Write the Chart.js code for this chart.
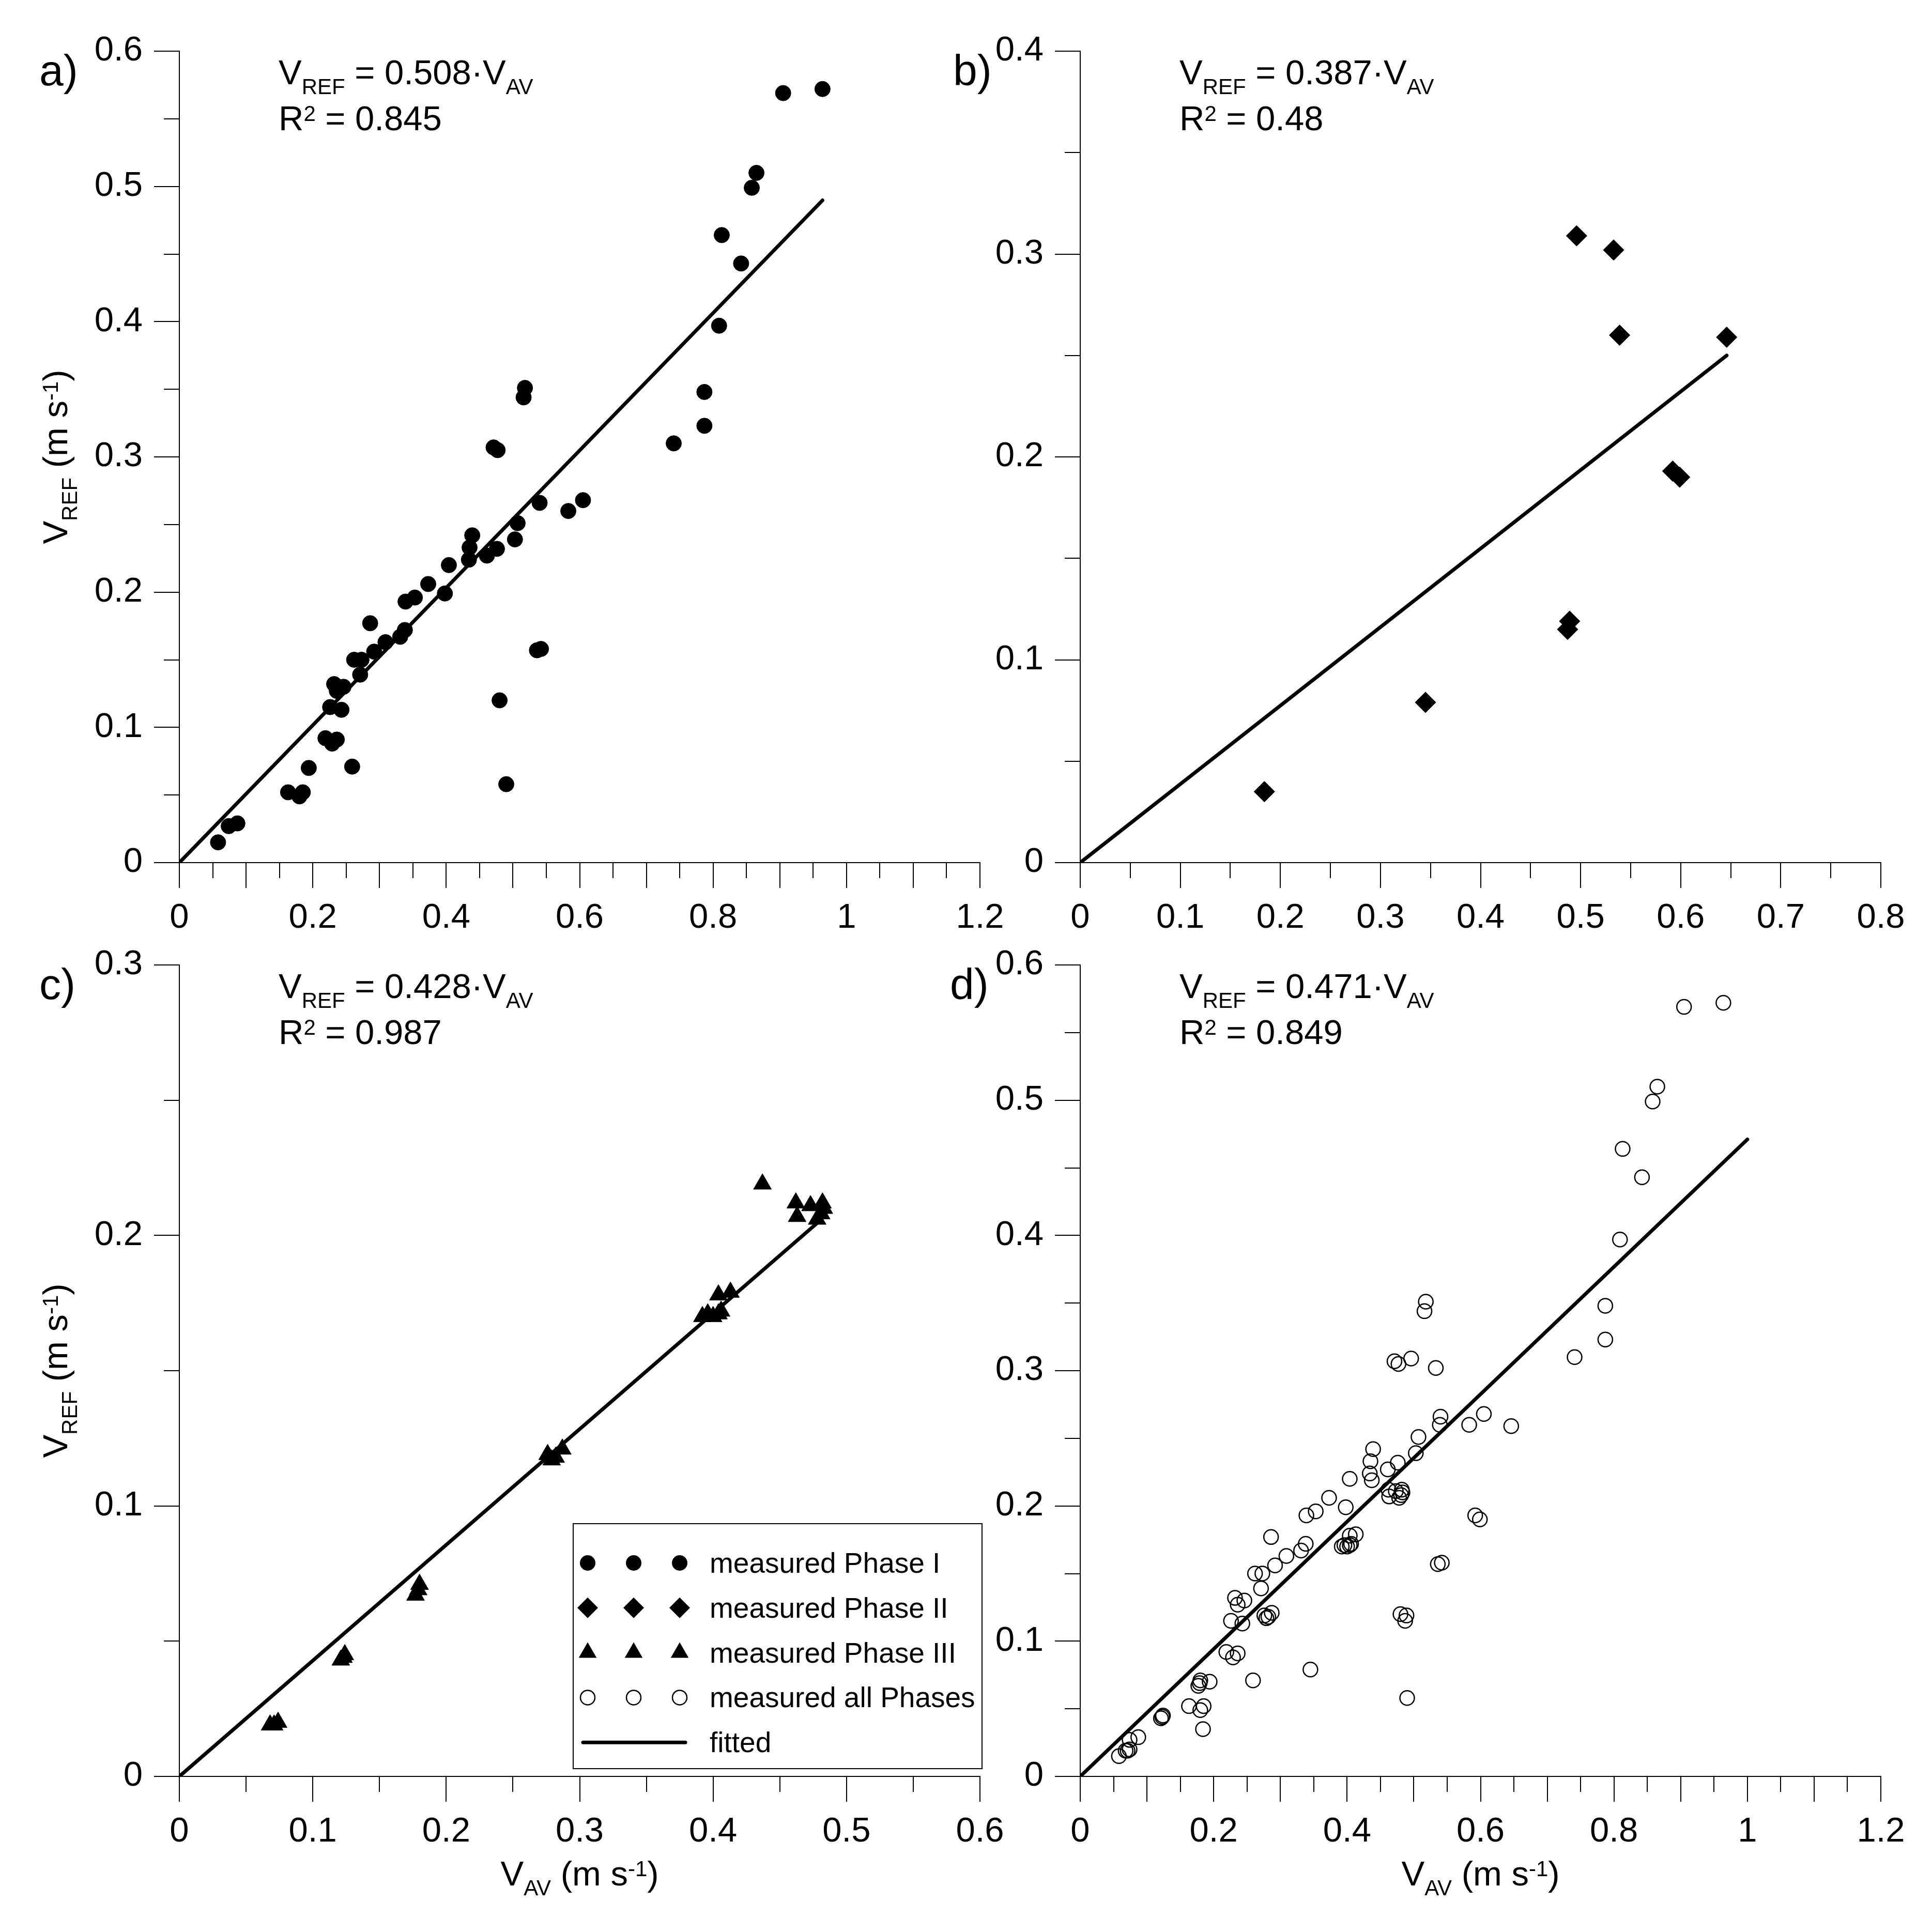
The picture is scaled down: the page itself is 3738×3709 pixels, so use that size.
<!DOCTYPE html>
<html>
<head>
<meta charset="utf-8">
<title>VREF vs VAV</title>
<script src="https://cdn.jsdelivr.net/npm/chart.js@4.4.1/dist/chart.umd.min.js"></script>
<style>
  html, body { margin: 0; padding: 0; background: #fff; }
  #wrap { position: relative; width: 3738px; height: 3709px; background: #fff; overflow: hidden; }
  #wrap canvas { position: absolute; }
</style>
</head>
<body>
<div id="wrap">
  <canvas id="chartA"></canvas>
  <canvas id="chartB"></canvas>
  <canvas id="chartC"></canvas>
  <canvas id="chartD"></canvas>
</div>
<script>
"use strict";

var FONT = '"Liberation Sans", Arial, Helvetica, sans-serif';

// measured points, [V_AV, V_REF] in m/s
var phase1 = [
  [0.058, 0.015], [0.074, 0.027], [0.087, 0.029], [0.163, 0.052], [0.180, 0.049],
  [0.185, 0.052], [0.194, 0.070], [0.259, 0.071], [0.219, 0.092], [0.229, 0.088],
  [0.236, 0.091], [0.226, 0.115], [0.243, 0.113], [0.232, 0.132], [0.236, 0.127],
  [0.246, 0.130], [0.271, 0.139], [0.262, 0.150], [0.273, 0.150], [0.286, 0.177],
  [0.292, 0.156], [0.309, 0.163], [0.331, 0.167], [0.338, 0.172], [0.339, 0.193],
  [0.353, 0.196], [0.373, 0.206], [0.398, 0.199], [0.404, 0.220], [0.434, 0.224],
  [0.435, 0.233], [0.439, 0.242], [0.461, 0.227], [0.476, 0.232], [0.471, 0.307],
  [0.477, 0.305], [0.480, 0.120], [0.490, 0.058], [0.503, 0.239], [0.507, 0.251],
  [0.516, 0.344], [0.518, 0.351], [0.536, 0.157], [0.542, 0.158], [0.540, 0.266],
  [0.583, 0.260], [0.605, 0.268], [0.741, 0.310], [0.787, 0.323], [0.787, 0.348],
  [0.809, 0.397], [0.813, 0.464], [0.842, 0.443], [0.858, 0.499], [0.865, 0.510],
  [0.905, 0.569], [0.964, 0.572]
];

var phase2 = [
  [0.184, 0.035], [0.345, 0.079], [0.487, 0.115], [0.489, 0.119], [0.496, 0.309],
  [0.533, 0.302], [0.539, 0.260], [0.592, 0.193], [0.599, 0.190], [0.646, 0.259]
];

var phase3 = [
  [0.068, 0.019], [0.071, 0.019], [0.074, 0.020],
  [0.121, 0.043], [0.123, 0.044], [0.124, 0.045],
  [0.177, 0.067], [0.179, 0.069], [0.180, 0.071],
  [0.276, 0.119], [0.279, 0.117], [0.282, 0.118], [0.287, 0.121],
  [0.392, 0.170], [0.396, 0.171], [0.400, 0.170], [0.404, 0.171], [0.406, 0.172],
  [0.404, 0.178], [0.413, 0.179],
  [0.437, 0.219],
  [0.462, 0.212], [0.463, 0.207], [0.473, 0.211], [0.478, 0.206], [0.481, 0.208],
  [0.483, 0.210], [0.482, 0.212]
];

var panelNames = ["a)", "b)", "c)", "d)"];
var fitSlope = [0.508, 0.387, 0.428, 0.471];
var fitEnd = [0.964, 0.646, 0.478, 1.0];
var rSquared = ["0.845", "0.48", "0.987", "0.849"];
var xMax = [1.2, 0.8, 0.6, 1.2];
var yMax = [0.6, 0.4, 0.3, 0.6];
var xLabelStep = [0.2, 0.1, 0.1, 0.2];
var legendLabels = ["measured Phase I", "measured Phase II", "measured Phase III", "measured all Phases", "fitted"];

// page layout (pixels)
var canvasRects = [
  { x: 0, y: 0, w: 1980, h: 1820 },
  { x: 1760, y: 0, w: 1978, h: 1820 },
  { x: 0, y: 1780, w: 1980, h: 1929 },
  { x: 1760, y: 1780, w: 1978, h: 1929 }
];
var plotBoxes = [
  { left: 347, right: 1896, top: 99, bottom: 1669 },
  { left: 2090, right: 3639, top: 99, bottom: 1669 },
  { left: 347, right: 1896, top: 1867, bottom: 3437 },
  { left: 2090, right: 3639, top: 1867, bottom: 3437 }
];
var letterDx = [-271, -246, -271, -252];
var Y_AXIS_W = 250, X_AXIS_H = 140;

function toXY(arr) {
  return arr.map(function (p) { return { x: p[0], y: p[1] }; });
}

// text with sub/superscripts: parts = [[text, 0 normal | 1 sub | 2 sup], ...]
function drawRich(ctx, x, y, parts, size, align) {
  var small = Math.round(size * 0.63);
  var total = 0, i;
  for (i = 0; i < parts.length; i++) {
    ctx.font = (parts[i][1] ? small : size) + "px " + FONT;
    total += ctx.measureText(parts[i][0]).width;
  }
  var cx = align === "center" ? x - total / 2 : x;
  ctx.textAlign = "left";
  ctx.textBaseline = "alphabetic";
  for (i = 0; i < parts.length; i++) {
    var kind = parts[i][1];
    ctx.font = (kind ? small : size) + "px " + FONT;
    var dy = kind === 1 ? size * 0.28 : (kind === 2 ? -size * 0.27 : 0);
    ctx.fillText(parts[i][0], cx, y + dy);
    cx += ctx.measureText(parts[i][0]).width;
  }
}

function drawShape(ctx, shape, x, y) {
  ctx.beginPath();
  if (shape === "circle") {
    ctx.arc(x, y, 15, 0, Math.PI * 2);
    ctx.fill();
  } else if (shape === "diamond") {
    ctx.moveTo(x, y - 20); ctx.lineTo(x + 20, y); ctx.lineTo(x, y + 20); ctx.lineTo(x - 20, y);
    ctx.closePath();
    ctx.fill();
  } else if (shape === "triangle") {
    ctx.moveTo(x, y - 20); ctx.lineTo(x + 17.3, y + 10); ctx.lineTo(x - 17.3, y + 10);
    ctx.closePath();
    ctx.fill();
  } else if (shape === "open") {
    ctx.lineWidth = 2.5;
    ctx.arc(x, y, 14, 0, Math.PI * 2);
    ctx.stroke();
  }
}

function decoPlugin(i) {
  return {
    id: "deco" + i,
    afterDraw: function (chart) {
      var ctx = chart.ctx;
      var xs = chart.scales.x, ys = chart.scales.y, area = chart.chartArea;
      var v, p;
      ctx.save();
      ctx.fillStyle = "#000";
      ctx.strokeStyle = "#000";

      // minor ticks
      ctx.lineWidth = 2;
      ctx.beginPath();
      for (v = 0.05; v < xMax[i]; v += 0.1) {
        p = Math.round(xs.getPixelForValue(v));
        ctx.moveTo(p, area.bottom);
        ctx.lineTo(p, area.bottom + 30);
      }
      for (v = 0.05; v < yMax[i]; v += 0.1) {
        p = Math.round(ys.getPixelForValue(v));
        ctx.moveTo(area.left, p);
        ctx.lineTo(area.left - 30, p);
      }
      ctx.stroke();

      // panel letter
      ctx.font = "84px " + FONT;
      ctx.textAlign = "left";
      ctx.textBaseline = "alphabetic";
      ctx.fillText(panelNames[i], area.left + letterDx[i], area.top + 66);

      // regression text
      drawRich(ctx, area.left + 192, area.top + 64,
        [["V", 0], ["REF", 1], [" = " + fitSlope[i].toFixed(3) + "\u00B7V", 0], ["AV", 1]], 67, "left");
      drawRich(ctx, area.left + 192, area.top + 153,
        [["R", 0], ["2", 2], [" = " + rSquared[i], 0]], 67, "left");

      // axis titles
      if (i === 0 || i === 2) {
        ctx.save();
        ctx.translate(area.left - 217, (area.top + area.bottom) / 2);
        ctx.rotate(-Math.PI / 2);
        drawRich(ctx, 0, 0, [["V", 0], ["REF", 1], [" (m s", 0], ["-1", 2], [")", 0]], 67, "center");
        ctx.restore();
      }
      if (i === 2 || i === 3) {
        drawRich(ctx, (area.left + area.right) / 2, area.bottom + 211,
          [["V", 0], ["AV", 1], [" (m s", 0], ["-1", 2], [")", 0]], 67, "center");
      }

      // legend (panel c)
      if (i === 2) {
        var bx = area.left + 762, by = area.top + 1081;
        var bw = area.right + 4 - bx, bh = 474;
        ctx.lineWidth = 2;
        ctx.strokeRect(bx, by, bw, bh);
        var shapes = ["circle", "diamond", "triangle", "open"];
        var cols = [790, 879, 968];
        for (var r = 0; r < legendLabels.length; r++) {
          var ry = area.top + 1157 + r * 86.8;
          if (r < 4) {
            for (var c = 0; c < cols.length; c++) {
              drawShape(ctx, shapes[r], area.left + cols[c], ry);
            }
          } else {
            ctx.lineWidth = 7;
            ctx.lineCap = "round";
            ctx.beginPath();
            ctx.moveTo(area.left + 781, ry);
            ctx.lineTo(area.left + 979, ry);
            ctx.stroke();
          }
          ctx.font = "55px " + FONT;
          ctx.textAlign = "left";
          ctx.textBaseline = "alphabetic";
          ctx.fillText(legendLabels[r], area.left + 1026, ry + 19);
        }
      }
      ctx.restore();
    }
  };
}

function makePanel(i, canvasId, points, style) {
  var rect = canvasRects[i], box = plotBoxes[i];
  var canvas = document.getElementById(canvasId);
  canvas.width = rect.w;
  canvas.height = rect.h;
  canvas.style.left = rect.x + "px";
  canvas.style.top = rect.y + "px";
  canvas.style.width = rect.w + "px";
  canvas.style.height = rect.h + "px";

  var pad = {
    left: box.left - rect.x - Y_AXIS_W,
    right: rect.x + rect.w - box.right,
    top: box.top - rect.y,
    bottom: rect.y + rect.h - box.bottom - X_AXIS_H
  };

  var axisCommon = {
    type: "linear",
    min: 0,
    grid: { drawOnChartArea: false, drawTicks: true, tickLength: 49, lineWidth: 2, tickWidth: 2, tickColor: "#000", color: "#000" },
    border: { display: true, color: "#000", width: 2 }
  };

  return new Chart(canvas.getContext("2d"), {
    type: "scatter",
    data: {
      datasets: [
        {
          data: toXY(points),
          pointStyle: style.shape,
          pointRadius: style.radius,
          backgroundColor: style.fill,
          borderColor: "#000",
          borderWidth: style.border
        },
        {
          data: [{ x: 0, y: 0 }, { x: fitEnd[i], y: fitSlope[i] * fitEnd[i] }],
          showLine: true,
          borderColor: "#000",
          borderWidth: 7,
          borderCapStyle: "round",
          pointRadius: 0,
          fill: false
        }
      ]
    },
    options: {
      responsive: false,
      maintainAspectRatio: false,
      animation: false,
      devicePixelRatio: 1,
      events: [],
      layout: { padding: pad },
      plugins: { legend: { display: false }, tooltip: { enabled: false } },
      scales: {
        x: Object.assign({}, axisCommon, {
          position: "bottom",
          max: xMax[i],
          afterFit: function (s) { s.height = X_AXIS_H; },
          ticks: {
            stepSize: 0.1,
            autoSkip: false,
            maxRotation: 0,
            maxTicksLimit: 100,
            padding: 18,
            color: "#000",
            font: { family: FONT, size: 67 },
            callback: function (v) {
              var k = v / xLabelStep[i];
              if (Math.abs(k - Math.round(k)) > 1e-6) return "";
              return String(Math.round(v * 100) / 100);
            }
          }
        }),
        y: Object.assign({}, axisCommon, {
          position: "left",
          max: yMax[i],
          afterFit: function (s) { s.width = Y_AXIS_W; },
          ticks: {
            stepSize: 0.1,
            autoSkip: false,
            maxTicksLimit: 100,
            padding: 22,
            color: "#000",
            font: { family: FONT, size: 67 },
            callback: function (v) { return String(Math.round(v * 100) / 100); }
          }
        })
      }
    },
    plugins: [decoPlugin(i)]
  });
}

var solid = "#000";
makePanel(0, "chartA", phase1, { shape: "circle", radius: 15, fill: solid, border: 1 });
makePanel(1, "chartB", phase2, { shape: "rectRot", radius: 20, fill: solid, border: 1 });
makePanel(2, "chartC", phase3, { shape: "triangle", radius: 20, fill: solid, border: 1 });
makePanel(3, "chartD", phase1.concat(phase2, phase3), { shape: "circle", radius: 14, fill: "rgba(0,0,0,0)", border: 2.5 });
</script>
</body>
</html>
